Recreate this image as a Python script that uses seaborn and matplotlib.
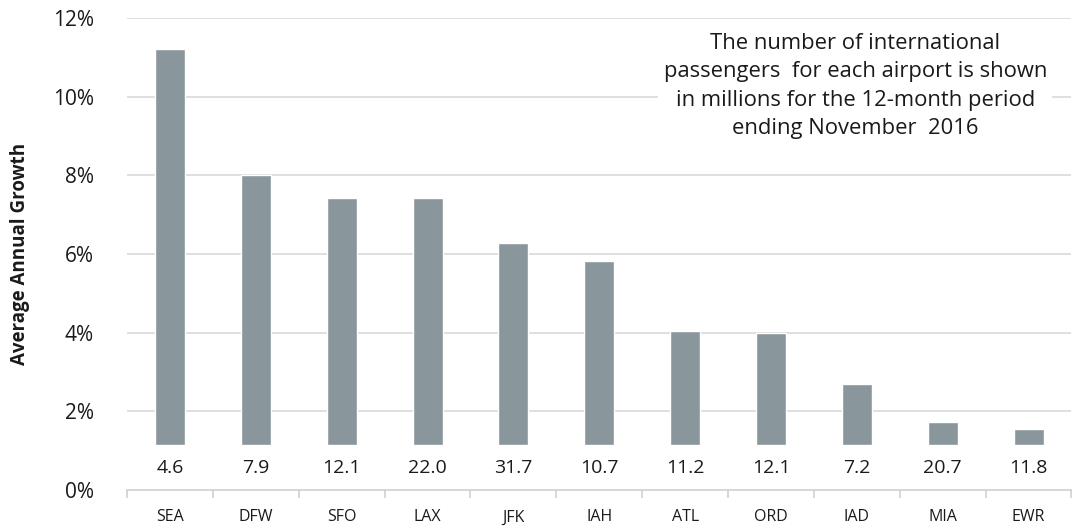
import matplotlib
matplotlib.use("Agg")
import matplotlib.pyplot as plt
import seaborn as sns
import pandas as pd
from matplotlib.ticker import FuncFormatter

airports = ["SEA", "DFW", "SFO", "LAX", "JFK", "IAH", "ATL", "ORD", "IAD", "MIA", "EWR"]
growth_pct = [11.2, 8.0, 7.42, 7.42, 6.28, 5.82, 4.04, 3.99, 2.69, 1.73, 1.55]
passengers_m = ["4.6", "7.9", "12.1", "22.0", "31.7", "10.7", "11.2", "12.1", "7.2", "20.7", "11.8"]
y_ticks = [0, 2, 4, 6, 8, 10, 12]

df = pd.DataFrame({"airport": airports, "growth": growth_pct})

sns.set_theme(style="white")
plt.rcParams["font.family"] = ["Open Sans", "DejaVu Sans"]

fig = plt.figure(figsize=(10.72, 5.27), dpi=100)
ax = fig.add_axes([0.1185, 0.0702, 0.881, 0.8956])

sns.barplot(data=df, x="airport", y="growth", color="#89969c", saturation=1,
            width=0.35, ax=ax, zorder=2)

ax.set_xlim(-0.5, len(airports) - 0.5)
ax.set_ylim(0, 12)
ax.set_yticks(y_ticks)
ax.yaxis.set_major_formatter(FuncFormatter(lambda v, p: f"{v:.0f}%"))
ax.grid(axis="y", color="#d9d9d9", linewidth=1.2, zorder=0)
ax.grid(axis="x", visible=False)

# white band holding the passenger counts under the bars
band_top = 1.15
ax.axhspan(0, band_top, color="white", zorder=3)
for i, label in enumerate(passengers_m):
    ax.text(i, 0.57, label, ha="center", va="center", fontsize=14,
            color="#1a1a1a", zorder=4)

for side in ["top", "right", "left"]:
    ax.spines[side].set_visible(False)
ax.spines["bottom"].set_color("#d0d0d0")
ax.spines["bottom"].set_linewidth(1.2)
ax.spines["bottom"].set_zorder(5)

# category tick marks sit between bars
ax.set_xticks([i - 0.5 for i in range(len(airports) + 1)], minor=True)
ax.tick_params(axis="x", which="minor", length=6, width=1.2, color="#d0d0d0",
               direction="out", bottom=True)
ax.tick_params(axis="x", which="major", length=0, labelsize=11.5, pad=14,
               labelcolor="#1a1a1a")
ax.tick_params(axis="y", length=0, labelsize=15, pad=24, labelcolor="#1a1a1a")

ax.set_xlabel("")
ax.set_ylabel("Average Annual Growth", fontsize=13.5, fontweight="bold",
              color="#1a1a1a", labelpad=16)

note = ("The number of international\n"
        "passengers  for each airport is shown\n"
        "in millions for the 12-month period\n"
        "ending November  2016")
ax.text(0.771, 0.968, note, transform=ax.transAxes, ha="center", va="top",
        fontsize=15.8, linespacing=1.45, color="#1a1a1a", zorder=6,
        bbox=dict(facecolor="white", edgecolor="none", pad=4))

fig.savefig("out.png", dpi=100)
